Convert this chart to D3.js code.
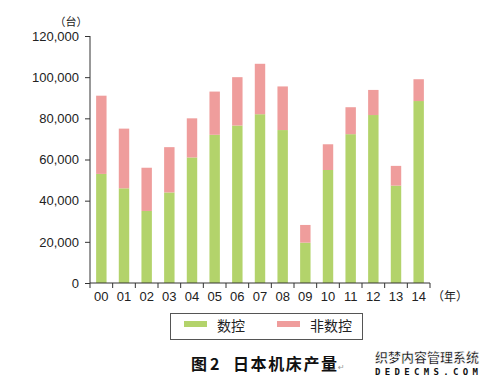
<!DOCTYPE html>
<html>
<head>
<meta charset="utf-8">
<script src="https://cdn.jsdelivr.net/npm/d3@7"></script>
<style>
  body { margin: 0; background: #fff; }
  svg { display: block; }
  .axis path, .axis line { stroke: #333; }
  .axis text { font-family: "Liberation Sans", Arial, sans-serif; font-size: 13px; fill: #222; }
</style>
</head>
<body>
<div id="chart"></div>
<script>
// years (axis labels) and the two stacked series, units: 台
var years = ["00", "01", "02", "03", "04", "05", "06", "07", "08", "09", "10", "11", "12", "13", "14"];
var ncValues = [53000, 46000, 35000, 44000, 61000, 72000, 76500, 82000, 74300, 19600, 54900, 72300, 81600, 47300, 88400];
var nonNcValues = [38000, 29000, 21000, 22000, 19000, 21000, 23500, 24500, 21200, 8600, 12500, 13100, 12200, 9600, 10600];
var yTicks = [0, 20000, 40000, 60000, 80000, 100000, 120000];
var seriesNames = ["数控", "非数控"];
var colors = ["#b3d36b", "#ef9d9c"];

var W = 484, H = 385;
var margin = { top: 36, right: 54, bottom: 102, left: 90 };
var width = W - margin.left - margin.right,
  height = H - margin.top - margin.bottom;

var svg = d3.select("#chart").append("svg")
  .attr("width", W)
  .attr("height", H);

var main = svg.append("g")
  .attr("transform", "translate(" + margin.left + "," + margin.top + ")");

var x = d3.scaleBand()
  .domain(years)
  .range([0, width])
  .paddingInner(0.54)
  .paddingOuter(0.27);

var y = d3.scaleLinear()
  .domain([0, 120000])
  .range([height, 0]);

// stack data
var data = years.map(function(yr, i) {
  return { year: yr, nc: ncValues[i], nonnc: nonNcValues[i] };
});
var stack = d3.stack().keys(["nc", "nonnc"]);
var layers = stack(data);

main.append("g")
  .selectAll("g")
  .data(layers)
  .enter()
  .append("g")
  .attr("fill", function(d, i) { return colors[i]; })
  .selectAll("rect")
  .data(function(d) { return d; })
  .enter()
  .append("rect")
  .attr("x", function(d) { return x(d.data.year); })
  .attr("width", x.bandwidth())
  .attr("y", function(d) { return y(d[1]); })
  .attr("height", function(d) { return y(d[0]) - y(d[1]); });

// y axis
var yAxis = d3.axisLeft(y)
  .tickValues(yTicks)
  .tickFormat(d3.format(","))
  .tickSize(5)
  .tickPadding(6);
main.append("g")
  .attr("class", "axis")
  .call(yAxis)
  .select(".domain").attr("d", "M0," + height + "V0");

// x axis: ticks on the band boundaries, labels centered
var xAxisG = main.append("g")
  .attr("class", "axis")
  .attr("transform", "translate(0," + height + ")");
xAxisG.append("line")
  .attr("x1", 0).attr("x2", width)
  .attr("stroke", "#333");
var step = x.step();
xAxisG.selectAll(".tk")
  .data(d3.range(years.length + 1))
  .enter()
  .append("line")
  .attr("x1", function(i) { return x.range()[0] + i * step; })
  .attr("x2", function(i) { return x.range()[0] + i * step; })
  .attr("y1", 0).attr("y2", 5)
  .attr("stroke", "#333");
xAxisG.selectAll("text")
  .data(years)
  .enter()
  .append("text")
  .attr("x", function(d) { return x(d) + x.bandwidth() / 2; })
  .attr("y", 18)
  .attr("text-anchor", "middle")
  .text(function(d) { return d; });

// unit labels
svg.append("text")
  .attr("x", 71).attr("y", 26)
  .attr("text-anchor", "middle")
  .style("font-family", "'Noto Sans CJK SC', sans-serif")
  .style("font-size", "11px")
  .attr("fill", "#222")
  .text("（台）");
svg.append("text")
  .attr("x", margin.left + width + 2).attr("y", margin.top + height + 18)
  .style("font-family", "'Noto Sans CJK SC', sans-serif")
  .style("font-size", "12px")
  .attr("fill", "#222")
  .text("（年）");

// legend
var legend = svg.append("g");
legend.append("rect")
  .attr("x", 170.5).attr("y", 313.5)
  .attr("width", 192).attr("height", 26)
  .attr("fill", "#fff")
  .attr("stroke", "#555");
var legendX = [184, 277];
var items = legend.selectAll(".legend-item")
  .data(seriesNames)
  .enter()
  .append("g")
  .attr("class", "legend-item")
  .attr("transform", function(d, i) { return "translate(" + legendX[i] + ",0)"; });
items.append("rect")
  .attr("y", 321)
  .attr("width", 23).attr("height", 6)
  .attr("fill", function(d, i) { return colors[i]; });
items.append("text")
  .attr("x", 33).attr("y", 331)
  .style("font-family", "'Noto Sans CJK SC', sans-serif")
  .style("font-size", "14px")
  .attr("fill", "#222")
  .text(function(d) { return d; });

// caption
var caption = svg.append("g")
  .style("font-family", "'Noto Sans CJK SC', sans-serif")
  .style("font-size", "16px")
  .style("font-weight", "bold")
  .attr("fill", "#111");
caption.append("text")
  .attr("x", 191).attr("y", 370)
  .text("图");
caption.append("text")
  .attr("x", 210).attr("y", 370)
  .text("2");
caption.append("text")
  .attr("x", 233).attr("y", 370)
  .attr("textLength", 104)
  .text("日本机床产量");
svg.append("text")
  .attr("x", 338).attr("y", 370)
  .style("font-family", "'DejaVu Sans', sans-serif")
  .style("font-size", "8px")
  .attr("fill", "#999")
  .text("↵");

// watermark
svg.append("text")
  .attr("x", 375).attr("y", 362)
  .attr("textLength", 104)
  .style("font-family", "'Noto Sans CJK SC', sans-serif")
  .style("font-size", "13px")
  .style("font-weight", "bold")
  .attr("fill", "#111")
  .attr("stroke", "#fff")
  .attr("stroke-width", 0.5)
  .text("织梦内容管理系统");
svg.append("text")
  .attr("x", 375).attr("y", 375)
  .attr("textLength", 103)
  .style("font-family", "'DejaVu Sans Mono', monospace")
  .style("font-size", "9px")
  .style("font-weight", "bold")
  .attr("fill", "#111")
  .text("DEDECMS.COM");
</script>
</body>
</html>
